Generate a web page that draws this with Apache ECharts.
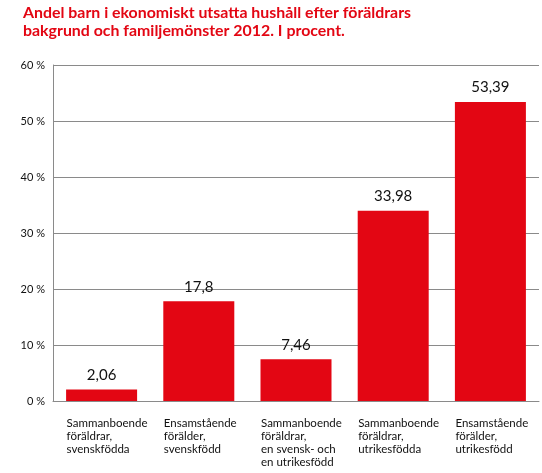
<!DOCTYPE html>
<html>
<head>
<meta charset="utf-8">
<script src="https://cdn.jsdelivr.net/npm/echarts@6/dist/echarts.min.js"></script>
<style>
html,body{margin:0;padding:0;background:#fff;}
#c{width:542px;height:473px;}
</style>
</head>
<body>
<div id="c"></div>
<script>
const titleText = "Andel barn i ekonomiskt utsatta hushåll efter föräldrars\nbakgrund och familjemönster 2012. I procent.";
const categories = [
  "Sammanboende\nföräldrar,\nsvenskfödda",
  "Ensamstående\nförälder,\nsvenskfödd",
  "Sammanboende\nföräldrar,\nen svensk- och\nen utrikesfödd",
  "Sammanboende\nföräldrar,\nutrikesfödda",
  "Ensamstående\nförälder,\nutrikesfödd"
];
const values = [2.06, 17.8, 7.46, 33.98, 53.39];
const valueLabels = ["2,06", "17,8", "7,46", "33,98", "53,39"];
const yTicks = [0, 10, 20, 30, 40, 50, 60];

const chart = echarts.init(document.getElementById('c'), null, {renderer: 'canvas'});
const FONT = 'Lato, "Open Sans", sans-serif';
chart.setOption({
  animation: false,
  backgroundColor: '#fff',
  title: {
    text: titleText,
    left: 23, top: 4, padding: 0,
    textStyle: {color: '#e30613', fontFamily: FONT, fontWeight: 'bold', fontSize: 15.9, lineHeight: 18}
  },
  grid: {left: 53, right: 3, top: 65, bottom: 72, outerBoundsMode: 'none', containLabel: false},
  xAxis: {
    type: 'category',
    data: categories,
    axisLine: {lineStyle: {color: '#8a8a8a', width: 1}},
    axisTick: {show: false},
    axisLabel: {
      interval: 0, align: 'left', verticalAlign: 'top',
      padding: [0, 0, 0, -35],
      margin: 16, color: '#111', fontFamily: FONT, fontSize: 11.5, lineHeight: 13,
      hideOverlap: false
    }
  },
  yAxis: {
    type: 'value', min: 0, max: 60, interval: 10,
    axisLine: {show: true, lineStyle: {color: '#8a8a8a', width: 1}},
    axisTick: {show: false},
    splitLine: {lineStyle: {color: '#8a8a8a', width: 1}},
    axisLabel: {
      margin: 8, color: '#111', fontFamily: FONT, fontSize: 11,
      formatter: v => yTicks.includes(v) ? v + ' %' : ''
    }
  },
  series: [{
    type: 'bar',
    data: values,
    barWidth: 71,
    itemStyle: {color: '#e30613'},
    label: {
      show: true, position: 'top', distance: 7,
      color: '#111', fontFamily: FONT, fontSize: 15,
      formatter: p => valueLabels[p.dataIndex]
    }
  }]
});
</script>
</body>
</html>
